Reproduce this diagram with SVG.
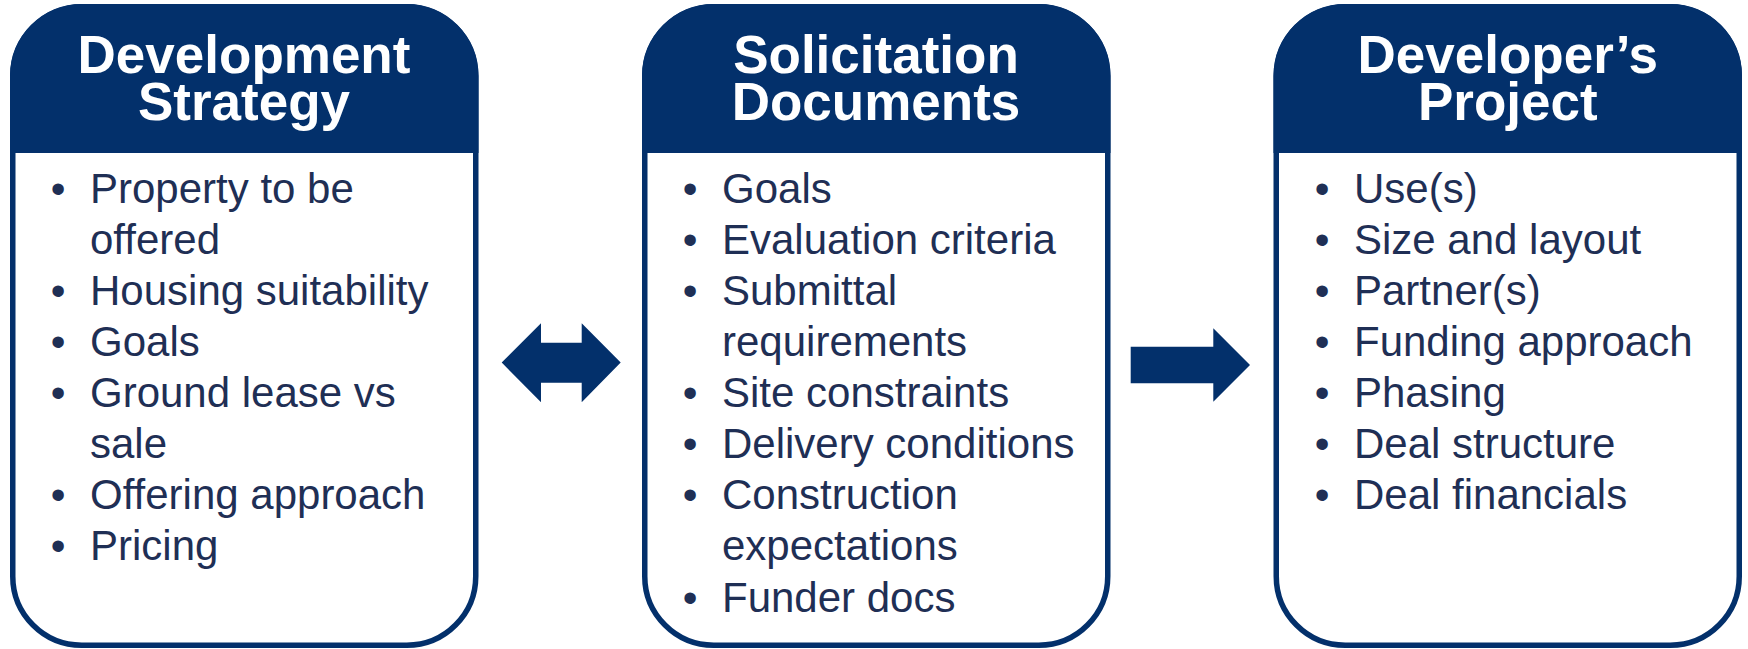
<svg xmlns="http://www.w3.org/2000/svg" width="1748" height="649" viewBox="0 0 1748 649">
  <style>
    .frame { fill: #ffffff; stroke: #03306b; stroke-width: 5.5; }
    .head { fill: #03306b; }
    .title { font-family: "Liberation Sans", Arial, sans-serif; font-weight: bold; font-size: 53px; fill: #ffffff; text-anchor: middle; }
    .item { font-family: "Liberation Sans", Arial, sans-serif; font-size: 42px; fill: #1f2f55; }
    .dot { font-family: "Liberation Sans", Arial, sans-serif; font-size: 42px; fill: #1f2f55; text-anchor: middle; }
    .arrow { fill: #03306b; }
  </style>

  <!-- Development Strategy -->
  <g id="development-strategy">
    <rect class="frame" x="12.75" y="6.75" width="463" height="638.5" rx="69" ry="69"/>
    <path class="head" d="M10,153 V76 A72,72 0 0 1 82,4 H406.5 A72,72 0 0 1 478.5,76 V153 Z"/>
    <text class="title"><tspan x="244" y="73">Development</tspan><tspan x="244" y="120">Strategy</tspan></text>
    <g>
      <text class="dot" x="58" y="202.7">•</text>
      <text class="item" x="90" y="202.7">Property to be</text>
      <text class="item" x="90" y="253.8">offered</text>
      <text class="dot" x="58" y="304.9">•</text>
      <text class="item" x="90" y="304.9">Housing suitability</text>
      <text class="dot" x="58" y="356">•</text>
      <text class="item" x="90" y="356">Goals</text>
      <text class="dot" x="58" y="407.1">•</text>
      <text class="item" x="90" y="407.1">Ground lease vs</text>
      <text class="item" x="90" y="458.2">sale</text>
      <text class="dot" x="58" y="509.3">•</text>
      <text class="item" x="90" y="509.3">Offering approach</text>
      <text class="dot" x="58" y="560.4">•</text>
      <text class="item" x="90" y="560.4">Pricing</text>
    </g>
  </g>

  <!-- Solicitation Documents -->
  <g id="solicitation-documents">
    <rect class="frame" x="644.75" y="6.75" width="463" height="638.5" rx="69" ry="69"/>
    <path class="head" d="M642,153 V76 A72,72 0 0 1 714,4 H1038.5 A72,72 0 0 1 1110.5,76 V153 Z"/>
    <text class="title"><tspan x="876" y="73">Solicitation</tspan><tspan x="876" y="120">Documents</tspan></text>
    <g>
      <text class="dot" x="690" y="202.7">•</text>
      <text class="item" x="722" y="202.7">Goals</text>
      <text class="dot" x="690" y="253.8">•</text>
      <text class="item" x="722" y="253.8">Evaluation criteria</text>
      <text class="dot" x="690" y="304.9">•</text>
      <text class="item" x="722" y="304.9">Submittal</text>
      <text class="item" x="722" y="356">requirements</text>
      <text class="dot" x="690" y="407.1">•</text>
      <text class="item" x="722" y="407.1">Site constraints</text>
      <text class="dot" x="690" y="458.2">•</text>
      <text class="item" x="722" y="458.2">Delivery conditions</text>
      <text class="dot" x="690" y="509.3">•</text>
      <text class="item" x="722" y="509.3">Construction</text>
      <text class="item" x="722" y="560.4">expectations</text>
      <text class="dot" x="690" y="611.5">•</text>
      <text class="item" x="722" y="611.5">Funder docs</text>
    </g>
  </g>

  <!-- Developer's Project -->
  <g id="developers-project">
    <rect class="frame" x="1276.25" y="6.75" width="463" height="638.5" rx="69" ry="69"/>
    <path class="head" d="M1273.5,153 V76 A72,72 0 0 1 1345.5,4 H1670 A72,72 0 0 1 1742,76 V153 Z"/>
    <text class="title"><tspan x="1507.75" y="73">Developer’s</tspan><tspan x="1507.75" y="120">Project</tspan></text>
    <g>
      <text class="dot" x="1322" y="202.7">•</text>
      <text class="item" x="1354" y="202.7">Use(s)</text>
      <text class="dot" x="1322" y="253.8">•</text>
      <text class="item" x="1354" y="253.8">Size and layout</text>
      <text class="dot" x="1322" y="304.9">•</text>
      <text class="item" x="1354" y="304.9">Partner(s)</text>
      <text class="dot" x="1322" y="356">•</text>
      <text class="item" x="1354" y="356">Funding approach</text>
      <text class="dot" x="1322" y="407.1">•</text>
      <text class="item" x="1354" y="407.1">Phasing</text>
      <text class="dot" x="1322" y="458.2">•</text>
      <text class="item" x="1354" y="458.2">Deal structure</text>
      <text class="dot" x="1322" y="509.3">•</text>
      <text class="item" x="1354" y="509.3">Deal financials</text>
    </g>
  </g>

  <!-- Connectors: block arrows between the stages -->
  <g id="connectors">
    <path class="arrow" d="M501.7,362.5 L541,323.3 V342.7 H581.7 V323.3 L620.7,362.5 L581.7,402.3 V382.7 H541 V402.3 Z"/>
    <path class="arrow" d="M1130.7,346.7 H1213.3 V328.3 L1250,365 L1213.3,401.7 V383.3 H1130.7 Z"/>
  </g>
</svg>
